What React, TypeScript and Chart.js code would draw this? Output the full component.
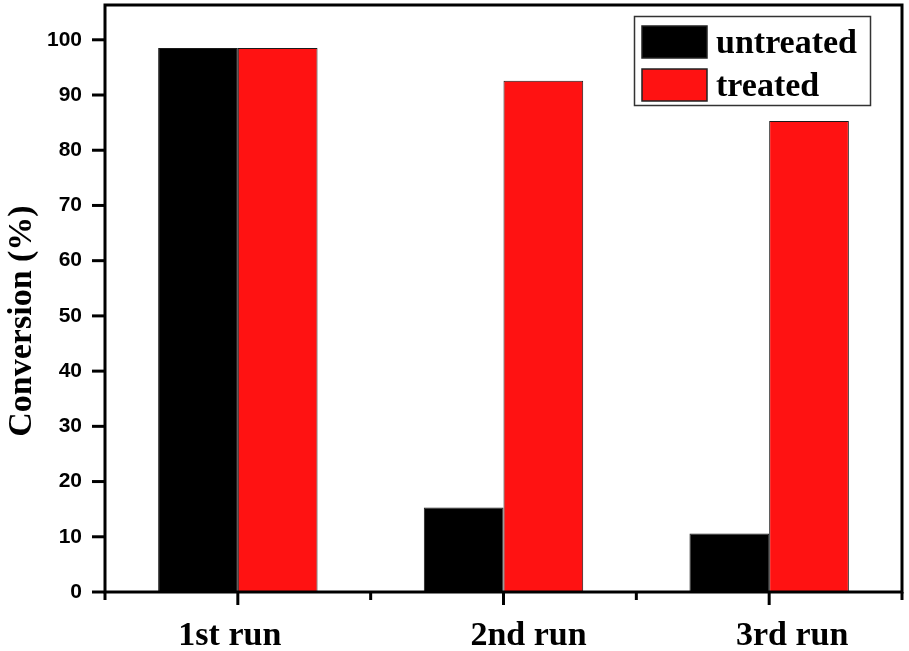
import React, { useEffect, useRef } from 'react';
import { Chart, registerables } from 'chart.js';

Chart.register(...registerables);

const categories = ['1st run', '2nd run', '3rd run'];
const seriesNames = ['untreated', 'treated'];
const untreated = [98.5, 15.3, 10.6];
const treated = [98.5, 92.6, 85.3];
const yTicks = [0, 10, 20, 30, 40, 50, 60, 70, 80, 90, 100];
const yMin = 0;
const yMax = 106.3;
const yTitle = 'Conversion (%)';

const seriesColors = ['#000000', '#ff1212'];
const labelNudge = [-8, 25, 23];
const serif = '"Liberation Serif", "Times New Roman", serif';
const sans = '"Liberation Sans", Arial, sans-serif';

const decorPlugin = {
  id: 'decor',
  afterDatasetsDraw(chart: any) {
    const { ctx, chartArea: a, scales } = chart;
    const xs = scales.x;
    const ys = scales.y;
    ctx.save();
    ctx.strokeStyle = '#000';
    ctx.lineWidth = 3;
    ctx.lineCap = 'butt';
    ctx.strokeRect(a.left, a.top, a.right - a.left, a.bottom - a.top);

    // y tick marks
    yTicks.forEach((v) => {
      const py = ys.getPixelForValue(v);
      ctx.beginPath();
      ctx.moveTo(a.left - 13, py);
      ctx.lineTo(a.left, py);
      ctx.stroke();
    });

    // x tick marks: major at categories, minor at boundaries
    categories.forEach((_, i) => {
      const px = xs.getPixelForValue(i);
      ctx.beginPath();
      ctx.moveTo(px, a.bottom);
      ctx.lineTo(px, a.bottom + 13);
      ctx.stroke();
    });
    for (let i = 0; i <= categories.length; i++) {
      const px = xs.getPixelForValue(i - 0.5);
      ctx.beginPath();
      ctx.moveTo(px, a.bottom);
      ctx.lineTo(px, a.bottom + 8);
      ctx.stroke();
    }

    // x labels
    ctx.fillStyle = '#000';
    ctx.font = `bold 34px ${serif}`;
    ctx.textAlign = 'center';
    ctx.textBaseline = 'alphabetic';
    categories.forEach((c, i) => {
      const px = xs.getPixelForValue(i) + labelNudge[i];
      ctx.fillText(c, px, a.bottom + 53);
    });

    // y title
    ctx.save();
    ctx.translate(22, 321);
    ctx.rotate(-Math.PI / 2);
    ctx.textBaseline = 'middle';
    ctx.textAlign = 'center';
    ctx.fillText(yTitle, 0, 0);
    ctx.restore();

    // legend
    const lx = a.right - 268;
    const ly = a.top + 11;
    ctx.lineWidth = 1.5;
    ctx.strokeStyle = '#333';
    ctx.strokeRect(lx + 0.5, ly + 0.5, 236, 89);
    chart.data.datasets.forEach((ds: any, i: number) => {
      const sy = ly + 10 + i * 43;
      ctx.fillStyle = ds.backgroundColor;
      ctx.fillRect(lx + 8, sy, 65, 32);
      ctx.lineWidth = 1.5;
      ctx.strokeStyle = '#222';
      ctx.strokeRect(lx + 8, sy, 65, 32);
      ctx.fillStyle = '#000';
      ctx.textAlign = 'left';
      ctx.textBaseline = 'alphabetic';
      ctx.font = `bold 34px ${serif}`;
      ctx.fillText(ds.label, lx + 82, sy + 27);
    });
    ctx.restore();
  },
};

export default function App() {
  const ref = useRef<HTMLCanvasElement | null>(null);

  useEffect(() => {
    if (!ref.current) return;
    const chart = new Chart(ref.current, {
      type: 'bar',
      data: {
        labels: categories,
        datasets: [
          {
            label: seriesNames[0],
            data: untreated,
            backgroundColor: seriesColors[0],
            borderColor: '#1a1a1a',
            borderWidth: 1,
          },
          {
            label: seriesNames[1],
            data: treated,
            backgroundColor: seriesColors[1],
            borderColor: '#1a1a1a',
            borderWidth: 1,
          },
        ],
      },
      options: {
        responsive: false,
        animation: false,
        layout: { padding: { top: 5, right: 7, left: 0, bottom: 0 } },
        plugins: {
          legend: { display: false },
          tooltip: { enabled: false },
        },
        datasets: {
          bar: { barPercentage: 1, categoryPercentage: 0.6 },
        },
        scales: {
          x: {
            type: 'category',
            offset: true,
            grid: { display: false, drawTicks: false },
            border: { display: false },
            ticks: { display: false },
            afterFit: (s: any) => {
              s.height = 59;
              s.paddingLeft = 0;
              s.paddingRight = 0;
            },
          },
          y: {
            min: yMin,
            max: yMax,
            grid: { display: false, drawTicks: false },
            border: { display: false },
            ticks: {
              color: '#000',
              padding: 23,
              font: { family: sans, size: 21, weight: 'bold' },
            },
            afterBuildTicks: (s: any) => {
              s.ticks = yTicks.map((v) => ({ value: v }));
            },
            afterFit: (s: any) => {
              s.width = 105;
              s.paddingTop = 0;
              s.paddingBottom = 0;
            },
          },
        },
      },
      plugins: [decorPlugin],
    } as any);
    return () => chart.destroy();
  }, []);

  return (
    <div style={{ position: 'absolute', left: 0, top: 0, width: 909, height: 651, background: '#fff' }}>
      <canvas ref={ref} width={909} height={651} style={{ display: 'block' }} />
    </div>
  );
}
